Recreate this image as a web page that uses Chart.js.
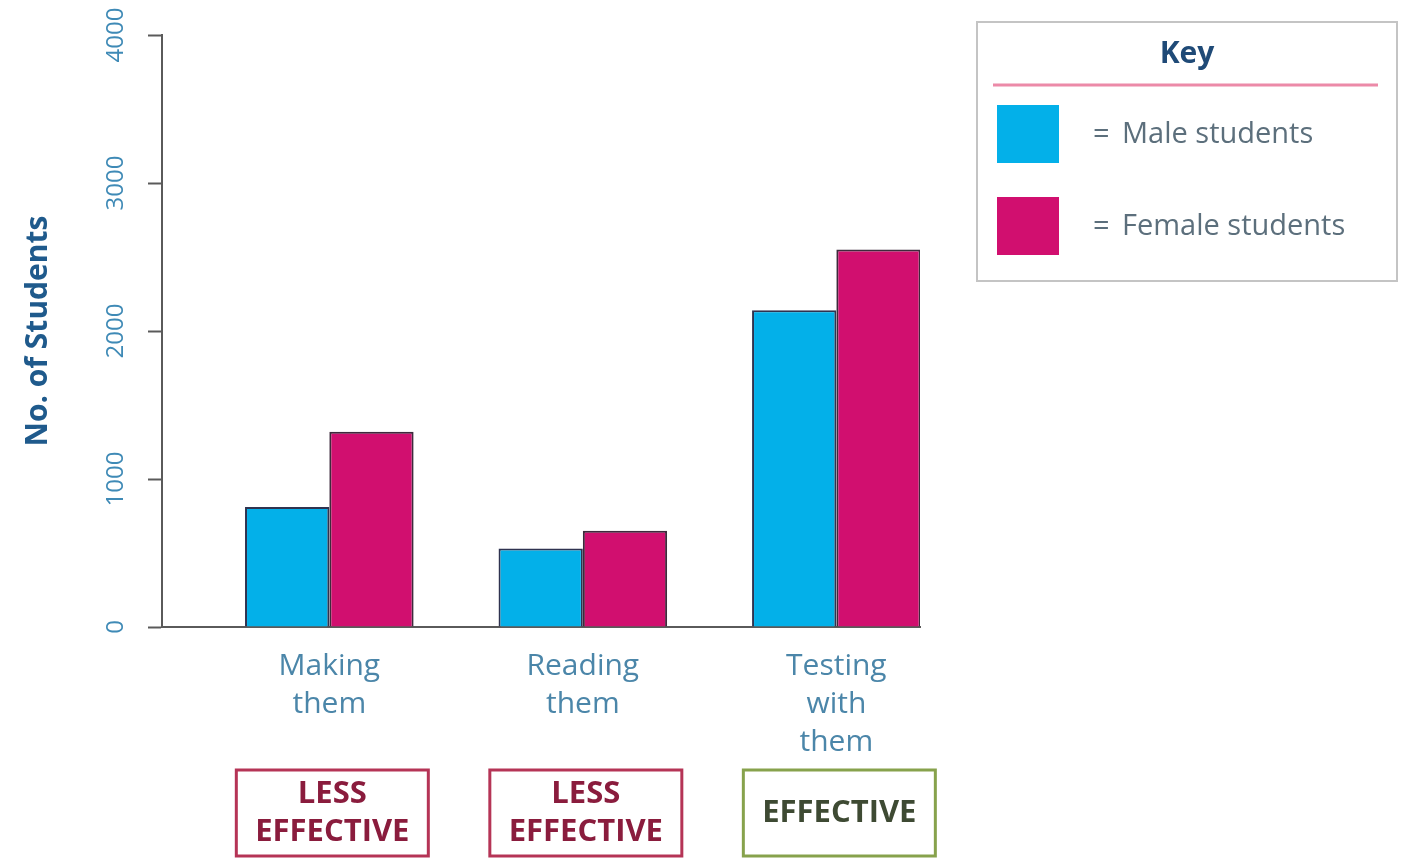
<!DOCTYPE html>
<html>
<head>
<meta charset="utf-8">
<script src="https://cdn.jsdelivr.net/npm/chart.js@4/dist/chart.umd.min.js"></script>
<style>
  body { margin: 0; background: #fff; }
  #wrap { width: 1409px; height: 865px; }
</style>
</head>
<body>
<div id="wrap"><canvas id="studyChart" width="1409" height="865"></canvas></div>
<script>
// Dados
const categories = [['Making', 'them'], ['Reading', 'them'], ['Testing', 'with', 'them']];
const maleStudents = [810, 530, 2140];
const femaleStudents = [1320, 650, 2550];
const verdicts = [['LESS', 'EFFECTIVE'], ['LESS', 'EFFECTIVE'], ['EFFECTIVE']];
const verdictKinds = ['less', 'less', 'effective'];
const yTicks = [0, 1000, 2000, 3000, 4000];

const FONT = "'Open Sans', 'Noto Sans', sans-serif";
const AXIS_GREY = '#5a5a5a';

// Caixas de "LESS EFFECTIVE" / "EFFECTIVE" abaixo das categorias
const verdictBoxes = {
    id: 'verdictBoxes',
    afterDraw(chart) {
        const { ctx, scales: { x } } = chart;
        const w = 192, h = 86, top = x.top + 143;
        ctx.save();
        verdicts.forEach((lines, i) => {
            const cx = x.getPixelForValue(i) + 3;
            const less = verdictKinds[i] === 'less';
            ctx.lineWidth = 3;
            ctx.strokeStyle = less ? '#b53456' : '#87a24c';
            ctx.strokeRect(cx - w / 2, top, w, h);
            ctx.fillStyle = less ? '#8a1c3d' : '#3e4a33';
            ctx.font = `bold 31px ${FONT}`;
            ctx.textAlign = 'center';
            ctx.textBaseline = 'middle';
            const lh = 38;
            const y0 = top + h / 2 - (lines.length - 1) * lh / 2;
            lines.forEach((t, j) => ctx.fillText(t, cx, y0 + j * lh));
        });
        ctx.restore();
    }
};

// Legenda ("Key")
const keyBox = {
    id: 'keyBox',
    afterDraw(chart) {
        const { ctx } = chart;
        const left = 977, top = 22, w = 420, h = 259;
        ctx.save();
        ctx.lineWidth = 2;
        ctx.strokeStyle = '#c4c4c4';
        ctx.strokeRect(left, top, w, h);

        ctx.fillStyle = '#1f4a77';
        ctx.font = `bold 30px ${FONT}`;
        ctx.textAlign = 'center';
        ctx.textBaseline = 'middle';
        ctx.fillText('Key', left + 210, top + 32);

        ctx.strokeStyle = '#ec8aa8';
        ctx.lineWidth = 3;
        ctx.beginPath();
        ctx.moveTo(left + 16, top + 63);
        ctx.lineTo(left + 401, top + 63);
        ctx.stroke();

        chart.data.datasets.forEach((ds, i) => {
            const sy = top + 83 + i * 92;
            ctx.fillStyle = ds.backgroundColor;
            ctx.fillRect(left + 20, sy, 62, 58);
            ctx.fillStyle = '#5c6f7c';
            ctx.font = `29px ${FONT}`;
            ctx.textAlign = 'left';
            ctx.fillText('=', left + 116, sy + 30);
            ctx.fillText(ds.label, left + 145, sy + 30);
        });
        ctx.restore();
    }
};

const ctx = document.getElementById('studyChart').getContext('2d');

new Chart(ctx, {
    type: 'bar',
    data: {
        datasets: [{
            label: 'Male students',
            data: maleStudents.map((v, i) => ({ x: i, y: v })),
            backgroundColor: '#03b0e9',
            borderColor: '#2f3350',
            borderWidth: 2
        }, {
            label: 'Female students',
            data: femaleStudents.map((v, i) => ({ x: i, y: v })),
            backgroundColor: '#d10f6f',
            borderColor: '#3d2a3c',
            borderWidth: 2
        }]
    },
    options: {
        responsive: false,
        animation: false,
        layout: { padding: { top: 35, right: 489, left: 0, bottom: 0 } },
        categoryPercentage: 0.665,
        barPercentage: 1,
        plugins: { legend: { display: false }, tooltip: { enabled: false } },
        scales: {
            x: {
                type: 'linear',
                offset: false,
                min: -0.66,
                max: 2.33,
                afterBuildTicks: axis => { axis.ticks = categories.map((c, i) => ({ value: i })); },
                afterFit: axis => { axis.height = 238; },
                grid: { drawOnChartArea: false, drawTicks: false, offset: false },
                border: { display: true, color: AXIS_GREY, width: 2 },
                ticks: {
                    padding: 20,
                    maxRotation: 0,
                    color: '#4b86a9',
                    font: { family: FONT, size: 30, lineHeight: 1.27 },
                    callback: v => categories[v]
                }
            },
            y: {
                min: 0,
                max: 4000,
                afterBuildTicks: axis => { axis.ticks = yTicks.map(v => ({ value: v })); },
                afterFit: axis => { axis.width = 162; },
                grid: { drawOnChartArea: false, drawTicks: true, tickLength: 14, tickColor: AXIS_GREY, tickWidth: 2 },
                border: { display: true, color: AXIS_GREY, width: 2 },
                title: {
                    display: true,
                    text: 'No. of Students',
                    color: '#1f5a8c',
                    font: { family: FONT, size: 30, weight: 'bold' },
                    padding: { top: 20, bottom: 0 }
                },
                ticks: {
                    minRotation: 90,
                    maxRotation: 90,
                    crossAlign: 'center',
                    padding: 4,
                    color: '#3f8ab6',
                    font: { family: FONT, size: 24 },
                    callback: v => String(v)
                }
            }
        }
    },
    plugins: [verdictBoxes, keyBox]
});
</script>
</body>
</html>
